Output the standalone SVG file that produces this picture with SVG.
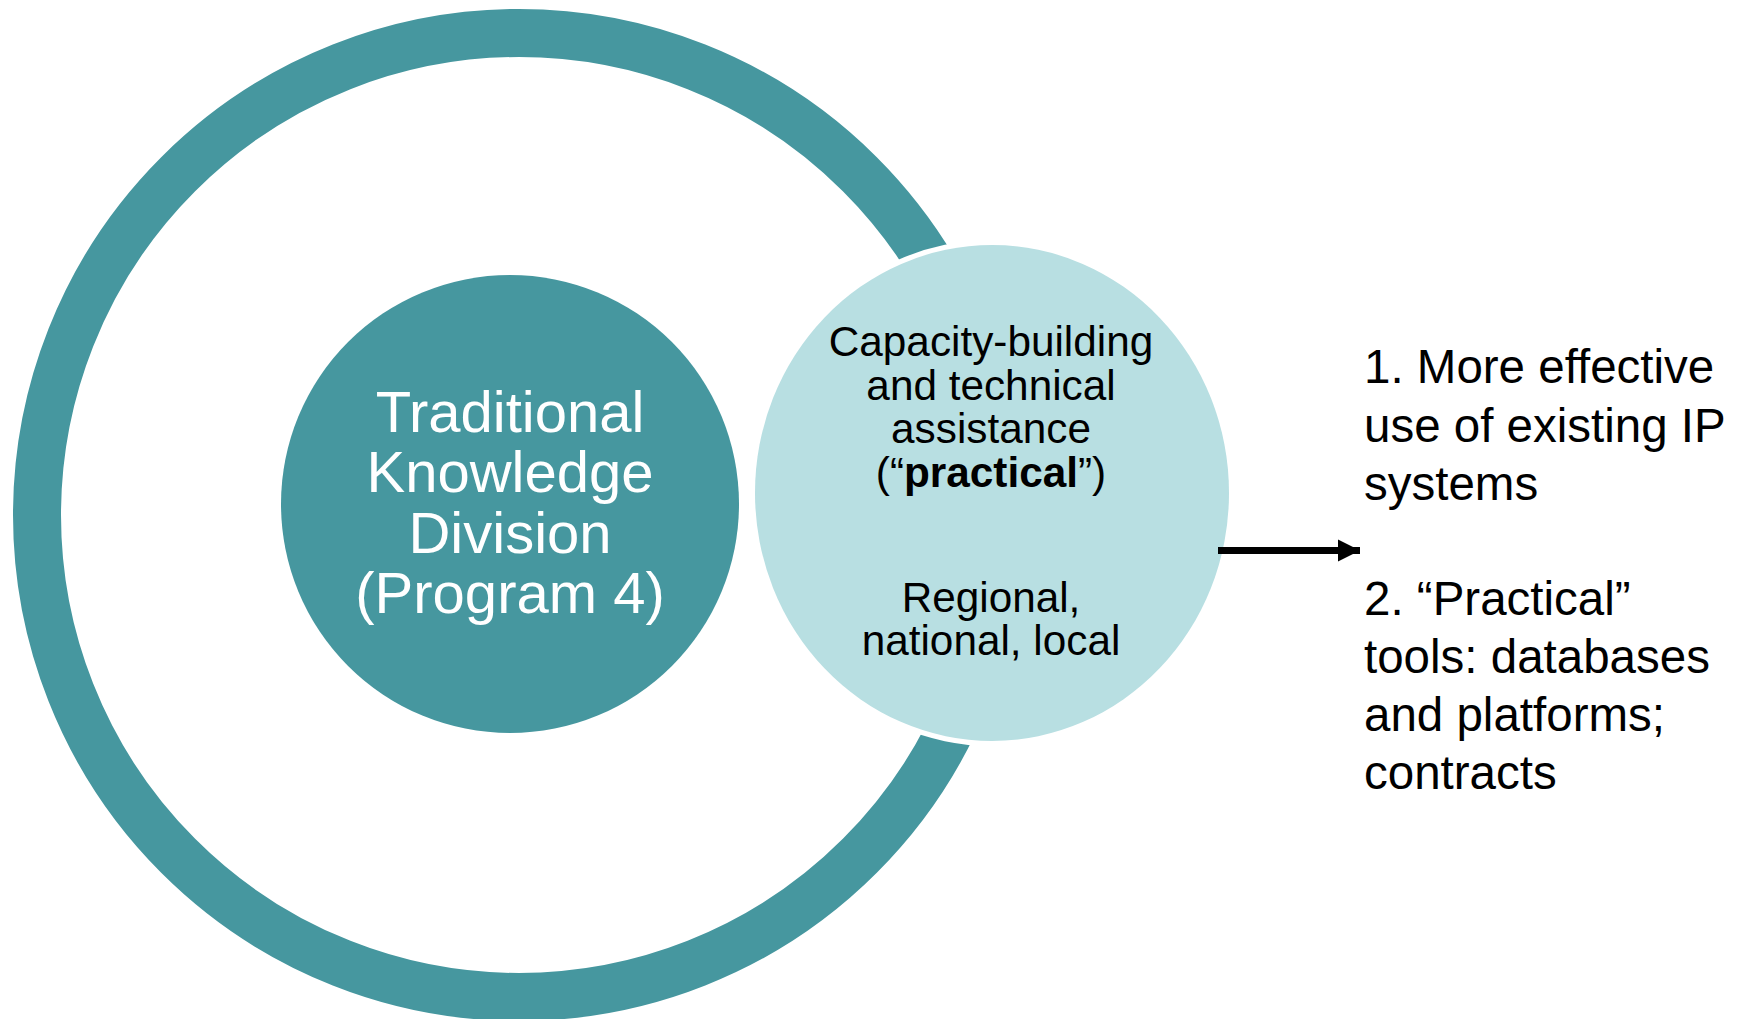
<svg xmlns="http://www.w3.org/2000/svg" width="1739" height="1019" viewBox="0 0 1739 1019">
  <style>
    text { font-family: "Liberation Sans", Arial, sans-serif; }
    .dark { fill: #46979F; }
    .light { fill: #B8DFE2; }
    .white-t { fill: #FFFFFF; font-size: 58px; text-anchor: middle; }
    .mid-t { fill: #000000; font-size: 42.3px; text-anchor: middle; }
    .out-t { fill: #000000; font-size: 47.5px; }
  </style>
  <defs>
    <marker id="arrowhead" markerWidth="24" markerHeight="24" refX="22" refY="12" orient="auto" markerUnits="userSpaceOnUse">
      <polygon points="0,1 22,12 0,23" fill="#000000"/>
    </marker>
  </defs>
  <rect x="0" y="0" width="1739" height="1019" fill="#FFFFFF"/>

  <g id="outer-ring">
    <circle cx="519" cy="515" r="482" fill="none" stroke="#46979F" stroke-width="48"/>
  </g>

  <g id="tk-division">
    <circle class="dark" cx="510" cy="504" r="229"/>
    <text class="white-t" x="510" y="432">Traditional</text>
    <text class="white-t" x="510" y="492">Knowledge</text>
    <text class="white-t" x="510" y="553">Division</text>
    <text class="white-t" x="510" y="613">(Program 4)</text>
  </g>

  <g id="capacity-building">
    <ellipse cx="992" cy="493" rx="242" ry="253" fill="#FFFFFF"/>
    <ellipse class="light" cx="992" cy="493" rx="237" ry="248"/>
    <text class="mid-t" x="991" y="356">Capacity-building</text>
    <text class="mid-t" x="991" y="400">and technical</text>
    <text class="mid-t" x="991" y="443">assistance</text>
    <text class="mid-t" x="991" y="487">(“<tspan font-weight="bold">practical</tspan>”)</text>
    <text class="mid-t" x="991" y="612">Regional,</text>
    <text class="mid-t" x="991" y="655">national, local</text>
  </g>

  <g id="connectors">
    <line x1="1218" y1="550.5" x2="1360" y2="550.5" stroke="#000000" stroke-width="7" marker-end="url(#arrowhead)"/>
  </g>

  <g id="outcomes">
    <text class="out-t" x="1364" y="383">1. More effective</text>
    <text class="out-t" x="1364" y="441.5">use of existing IP</text>
    <text class="out-t" x="1364" y="500">systems</text>
    <text class="out-t" x="1364" y="615">2. “Practical”</text>
    <text class="out-t" x="1364" y="673">tools: databases</text>
    <text class="out-t" x="1364" y="731">and platforms;</text>
    <text class="out-t" x="1364" y="789">contracts</text>
  </g>
</svg>
